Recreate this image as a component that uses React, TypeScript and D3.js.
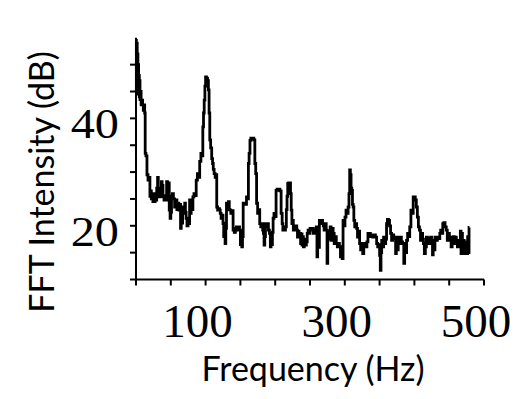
import React from "react";
import * as d3 from "d3";

const freqs: number[] = [
  0, 1, 1.5, 2, 2.5, 3, 3.5, 4, 4.5, 5, 5.5, 6, 6.7, 8, 9, 10, 11, 12, 12.9, 13.5, 15, 16.5, 18, 19.5,
  20.5, 21.5, 22.5, 23.5, 25, 26, 27, 28, 29, 30.5, 31.5, 32.5, 33.5, 35, 36, 37, 38, 39.5, 41, 42.5, 43.5,
  44.5, 46, 47, 48.5, 49.5, 50.5, 51.5, 53, 54.5, 56.5, 58, 59.5, 61, 62, 63.5, 64.5, 65.5, 66.5, 67.5,
  68.5, 69.5, 70.5, 71.5, 72.5, 74, 75.5, 76.5, 77.5, 78.5, 80, 81, 82.5, 84, 85.5, 87.5, 89, 90.5,
  92.5, 94, 95.5, 96.5, 97.5, 98.5, 99.5, 100.5, 102, 103.5, 104.5, 105.5, 106.5, 108, 109.5, 110.5,
  111.5, 113, 114.5, 115.5, 116.5, 118, 119.5, 120.5, 121.5, 123, 124.5, 125.5, 126.5, 127.5, 128.5, 129.5,
  130.5, 132, 133.5, 134.5, 135.5, 137, 138.5, 140.5, 142, 143.5, 145, 146.5, 148, 149.5, 150.5, 151.5,
  152.5, 153.5, 154.5, 156, 158, 159.5, 161, 162, 163, 164.5, 165.5, 167, 168.5, 170, 171.5, 172.5,
  174, 175.5, 177, 178.5, 180, 181.5, 182.5, 183.5, 184.5, 185.5, 186.5, 188, 189.5, 191, 192.5, 193.5,
  194.5, 195.5, 196.5, 197.5, 199, 200.5, 202, 203.5, 204.5, 206, 207.5, 209.5, 210.5, 211.5, 212.5, 214,
  215.5, 216.5, 217.5, 218.5, 220, 221.5, 222.5, 223.5, 224.5, 225.5, 226.5, 228, 229.5, 230.5, 231.5,
  232.5, 233.5, 235, 236, 237, 238, 239, 240, 241, 242.5, 244, 245.5, 246.5, 248, 249.5, 250.5, 252, 254,
  255.5, 257, 258.5, 259.5, 260.5, 261.5, 262.5, 264.5, 266, 267.5, 268.5, 269.5, 271, 272.5, 274, 275,
  276, 277.5, 278.5, 279.5, 281, 282.5, 284, 285.5, 287, 288.5, 290, 291.5, 293, 294.5, 295.5, 297, 298,
  299.5, 301, 302.5, 304, 305.5, 306.5, 307.5, 308.5, 309.5, 310.5, 311.5, 312.5, 313.5, 315, 316.5,
  317.5, 319, 320.5, 322, 323.5, 325, 326.5, 328, 329.5, 331, 332.5, 334, 336, 337.5, 339, 341, 343, 345,
  346.5, 348, 349.5, 350.5, 351.5, 352.5, 353.5, 355, 356.5, 358, 359.5, 360.5, 362, 363.5, 365, 366.5,
  368, 369.5, 371, 372.5, 373.5, 374.5, 376, 377.5, 379, 380.5, 382, 384, 385.5, 386.5, 388, 389.5, 391,
  392.5, 394, 396, 397.5, 399, 400.5, 402, 403.5, 405, 406.5, 408, 409.5, 411, 412.5, 413.5, 415, 416.5,
  418, 419.5, 421, 422.5, 424, 425.5, 426.5, 427.5, 429, 430, 432, 434, 436, 437, 438.5, 440, 441.5, 443,
  445, 446.5, 448, 449.5, 451, 452, 453.5, 455, 456.5, 458, 459.5, 461, 462.5, 464, 465.5, 466.5, 467.5,
  468.5, 469.5, 471, 472, 473, 474, 475, 476, 477, 478, 479,
];

const intensity: number[] = [
  54.5, 45, 54, 46, 52, 44.5, 50, 45, 48, 44, 47, 43.5, 45, 42.5, 43.4, 42.5, 41.5, 42.5, 41, 33.5, 33, 29.5, 28.5, 29,
  25.5, 26.5, 25, 25.8, 24.5, 26, 24.5, 25.5, 24.8, 27, 29, 27, 25.4, 27, 25.5, 28.2, 27.5, 25.4, 24.8, 25.6, 24.8,
  28.2, 27.2, 28, 22.9, 21.4, 22.5, 25.5, 26, 25, 23.5, 24.8, 23, 24.2, 22.9, 24, 19.5, 23.5, 20.5, 22.5,
  23.5, 22.3, 24.2, 22.5, 21.4, 20, 21, 20.4, 24.8, 22.3, 24.5, 23, 25.4, 26, 25.6, 28.5, 29.7, 29,
  32, 33.5, 33, 38.4, 41, 43.4, 46, 47.7, 47.5, 47, 45.3, 41, 36, 34.5, 32.5, 31.6,
  30.5, 29.7, 29, 29.5, 23.5, 22.9, 23.2, 22.9, 22.3, 21.4, 22, 20.4, 18, 20.5, 16.7, 19.5,
  24.2, 23.5, 24.5, 23, 22.9, 22.3, 22.8, 19.2, 18.8, 19.5, 19.8, 19.2, 19.8, 19.2, 16.5, 18.5,
  16.1, 18, 24.2, 24, 24, 25.4, 25, 31.6, 33.5, 35.9, 36.3, 36.3, 36.3, 36, 31.6, 29.7,
  24.2, 22.3, 23, 20.4, 19.8, 20.4, 19.2, 18.6, 16.4, 18, 20.4, 19.8, 20.4, 19.2, 18.6, 16.1,
  18.6, 16.5, 18.8, 21.4, 22.3, 21.7, 26.6, 26.8, 26.8, 26.8, 26.5, 22.3, 20.4, 19.2, 19.8, 19.2,
  19.8, 23, 25.5, 27.9, 28, 28, 26, 22.9, 20.4, 21, 19.2, 19.8, 19.2, 20, 19.2,
  17.9, 19, 18.2, 18.6, 16.7, 18.5, 16.4, 18, 16.1, 17.5, 16.4, 17, 18.6, 19.2, 18.6, 19.5, 19.2, 19.5,
  18.6, 19.2, 18.6, 19.8, 14.2, 19.5, 16, 21, 20.4, 21, 20.4, 20, 19.2, 20.4, 19.2, 13,
  18.6, 17.5, 19, 19.8, 17.3, 19.5, 18.6, 16.7, 18, 16.7, 16.1, 16.7, 16.1, 14.2, 15.5, 13.9, 21,
  20, 21.6, 22.9, 22.3, 23.5, 26, 30.4, 29.5, 27, 26.6, 24, 23.5, 21, 19.8, 20.4,
  19.5, 17.9, 19, 16.7, 15.5, 16.7, 14.8, 16.1, 16.7, 16.1, 17, 18.6, 18.6, 18, 18.3, 17.9, 18.3, 17.9,
  16.7, 16.1, 16.5, 14.5, 11.7, 15, 17.3, 16.1, 17.9, 16.7, 17.5, 20.4, 21.2, 21, 20, 18.6,
  17.3, 18.3, 17.6, 17.9, 14.8, 17.5, 15.5, 17.9, 16.7, 17.9, 17, 16.7, 13, 16.5, 15, 17.3, 18.6,
  18, 19.8, 22.9, 22.3, 25.4, 25.4, 24.8, 23.5, 21.6, 19.8, 19.2, 17.3, 18.6, 17.5, 16.7, 14.8, 16.1,
  17.9, 16.7, 17.6, 16.7, 17.9, 17.3, 14.6, 17, 15.5, 17.9, 17.3, 17.9, 17.6, 18.6, 19.2, 18.6, 20.4, 20.6,
  19.8, 19.2, 17.3, 18.6, 17.6, 17.9, 16.1, 17.9, 18, 16.7, 17.9, 17.3, 16.1, 17.3, 16.4, 19, 14.8,
  18.6, 15.2, 17.3, 14.8, 17, 15, 16.8, 14.8, 18, 15, 19.7,
];

const xTickValues: number[] = [0, 50, 100, 150, 200, 250, 300, 350, 400, 450, 500];
const yTickValues: number[] = [10, 15, 20, 25, 30, 35, 40, 45, 50];
const xTickLabels: number[] = [100, 300, 500];
const yTickLabels: number[] = [20, 40];

export default function App() {
  const x = d3.scaleLinear().domain([0, 500]).range([136, 484]);
  const y = d3.scaleLinear().domain([10, 55]).range([279.5, 37.8]);
  const data = freqs.map((f, i) => [f, intensity[i]] as [number, number]);
  const line = d3
    .line<[number, number]>()
    .x((d) => x(d[0]))
    .y((d) => y(d[1]))
    .curve(d3.curveStep);

  return (
    <svg
      width={528}
      height={399}
      style={{ position: "absolute", left: 0, top: 0, background: "#fff" }}
    >
      <rect x={0} y={0} width={528} height={399} fill="#fff" />
      <line x1={x(0)} x2={x(0)} y1={y(55)} y2={y(10)} stroke="#000" strokeWidth={2} />
      <line x1={x(0) - 1} x2={x(500)} y1={y(10)} y2={y(10)} stroke="#000" strokeWidth={2} />
      {yTickValues.map((v) => (
        <line key={"yt" + v} x1={x(0) - 6} x2={x(0)} y1={y(v)} y2={y(v)} stroke="#000" strokeWidth={2} />
      ))}
      {xTickValues.map((v) => (
        <line key={"xt" + v} x1={x(v)} x2={x(v)} y1={y(10)} y2={y(10) + 6} stroke="#000" strokeWidth={2} />
      ))}
      {xTickLabels.map((v) => (
        <text
          key={"xl" + v}
          x={x(v) - 8}
          y={337}
          textAnchor="middle"
          fontFamily="'Liberation Serif', 'Times New Roman', serif"
          fontSize={47}
          fill="#000"
        >
          {v}
        </text>
      ))}
      {yTickLabels.map((v) => (
        <text
          key={"yl" + v}
          transform={`translate(119, ${y(v) + 20}) scale(1.15, 1)`}
          textAnchor="end"
          fontFamily="'Liberation Serif', 'Times New Roman', serif"
          fontSize={42}
          fill="#000"
        >
          {v}
        </text>
      ))}
      <path d={line(data) || ""} fill="none" stroke="#000" strokeWidth={2.8} strokeLinejoin="miter" />
      <text
        x={313}
        y={381}
        textAnchor="middle"
        fontFamily="Lato, 'Open Sans', sans-serif"
        fontSize={34}
        fill="#000"
      >
        Frequency (Hz)
      </text>
      <text
        transform="translate(54, 182) rotate(-90)"
        textAnchor="middle"
        fontFamily="Lato, 'Open Sans', sans-serif"
        fontSize={34}
        fill="#000"
      >
        FFT Intensity (dB)
      </text>
    </svg>
  );
}
